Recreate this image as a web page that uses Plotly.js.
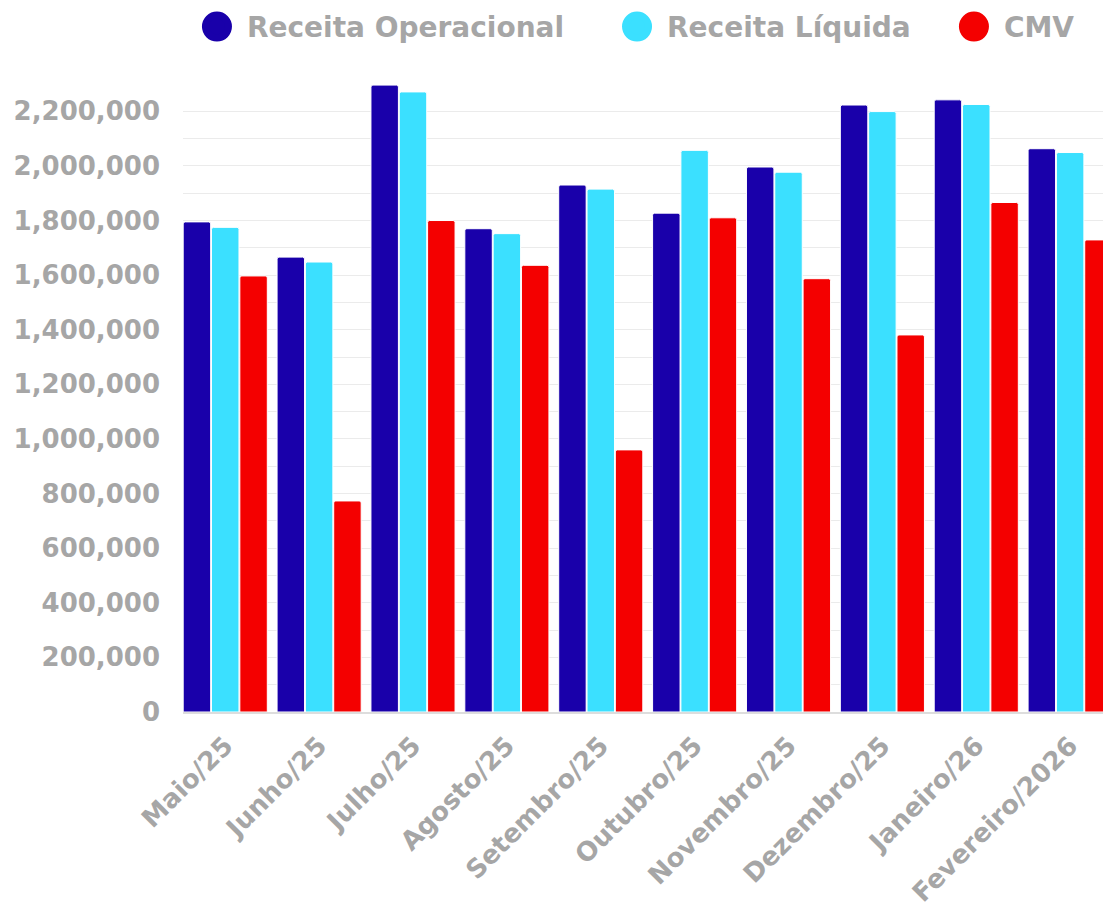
<!DOCTYPE html>
<html>
<head>
<meta charset="utf-8">
<script src="https://cdn.plot.ly/plotly-3.0.1.min.js"></script>
<style>
html,body{margin:0;padding:0;background:#fff;overflow:hidden;}
#chart{width:1103px;height:915px;}
</style>
</head>
<body>
<div id="chart"></div>
<script>
const categories = ["Maio/25","Junho/25","Julho/25","Agosto/25","Setembro/25","Outubro/25","Novembro/25","Dezembro/25","Janeiro/26","Fevereiro/2026"];
const seriesNames = ["Receita Operacional","Receita Líquida","CMV"];
const receitaOperacional = [1795000,1666000,2296000,1770000,1930000,1827000,1996000,2223000,2242000,2063000];
const receitaLiquida     = [1775000,1648000,2271000,1752000,1915000,2057000,1977000,2199000,2225000,2049000];
const cmv                = [1597000,773000,1800000,1636000,960000,1810000,1587000,1381000,1866000,1729000];
const colors = ["#1900AA","#3BE0FF","#F40000"];
const yTickVals = [0,200000,400000,600000,800000,1000000,1200000,1400000,1600000,1800000,2000000,2200000];

const values = [receitaOperacional, receitaLiquida, cmv];
const grey = "#A6A6A6";
const fontFam = "DejaVu Sans, sans-serif";
const legendIds = ["legend","legend2","legend3"];
const legendX = [0.0043, 0.4609, 0.8271];

const traces = [];
values.forEach((v,i)=>{
  traces.push({
    type:"bar", x:categories, y:v, name:seriesNames[i], showlegend:false,
    marker:{color:colors[i], line:{color:"#ffffff", width:1}, cornerradius:2},
    hoverinfo:"x+y"
  });
});
values.forEach((v,i)=>{
  traces.push({
    type:"scatter", mode:"markers", x:[null], y:[null], name:seriesNames[i], legend:legendIds[i],
    marker:{color:colors[i], size:16, symbol:"circle", line:{color:colors[i], width:5}}
  });
});

const layout = {
  width:1103, height:915,
  margin:{l:183, r:0, t:84, b:203, pad:0},
  paper_bgcolor:"#ffffff", plot_bgcolor:"#ffffff",
  barmode:"group", bargap:0.095, bargroupgap:0.03,
  font:{family:fontFam, color:grey, size:26},
  showlegend:true,
  xaxis:{
    type:"category", range:[-0.45, 9.35], tickangle:-45, showgrid:false,
    showline:true, linecolor:"#DDDDDD", linewidth:2, ticks:"",
    tickfont:{family:fontFam, size:26, color:grey, weight:"bold"}, ticklabelstandoff:6, fixedrange:true
  },
  yaxis:{
    range:[0, 2300000], tickvals:yTickVals, tickformat:",d", ticks:"",
    showgrid:true, gridcolor:"#EBEBEB", gridwidth:1, zeroline:false,
    minor:{dtick:100000, showgrid:true, gridcolor:"#EBEBEB", gridwidth:1},
    tickfont:{family:fontFam, size:26, color:grey, weight:"bold"}, ticklabelstandoff:22, fixedrange:true
  }
};
legendIds.forEach((id,i)=>{
  layout[id] = {orientation:"h", x:legendX[i], xanchor:"left", y:1.091, yanchor:"middle", itemwidth:50,
    font:{family:fontFam, size:28, color:grey, weight:"bold"}, itemsizing:"trace", bgcolor:"rgba(0,0,0,0)"};
});

function enlargeLegendDots(){
  document.querySelectorAll("#chart .legendpoints path.scatterpts").forEach(p=>{
    const t = p.getAttribute("transform") || "";
    if(!/scale/.test(t)) p.setAttribute("transform", t + " scale(1.43)");
  });
}
Plotly.newPlot("chart", traces, layout, {displayModeBar:false}).then(gd=>{
  enlargeLegendDots();
  gd.on("plotly_afterplot", enlargeLegendDots);
});
</script>
</body>
</html>
